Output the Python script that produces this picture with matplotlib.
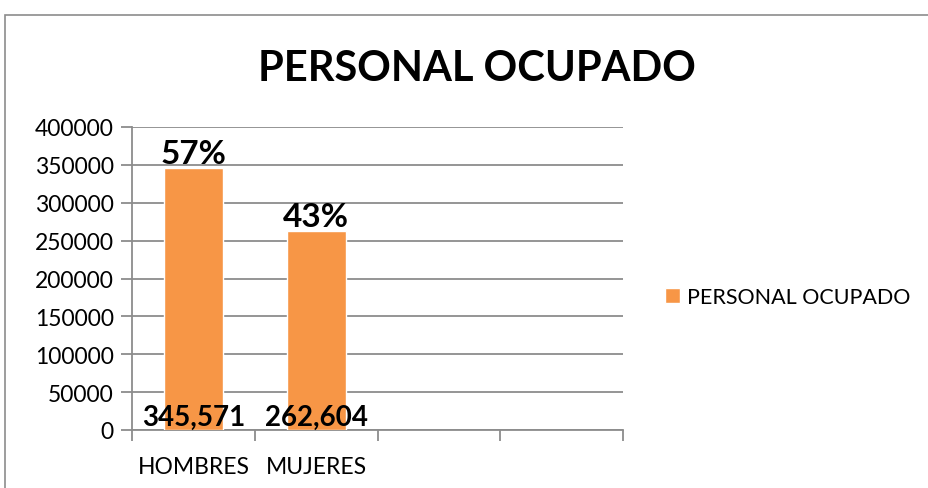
import numpy as np
from matplotlib import pyplot as plt
from matplotlib.patches import Rectangle

plt.rcParams.update({
    "font.family": ['Lato', 'DejaVu Sans'],
})

categorias = ['HOMBRES', 'MUJERES', '', '']
valores = [345571, 262604]
porcentajes = ['57%', '43%']
etiquetas_valor = ['345,571', '262,604']
serie = 'PERSONAL OCUPADO'
y_ticks = [0, 50000, 100000, 150000, 200000, 250000, 300000, 350000, 400000]

naranja = '#F79646'
gris = '#8c8c8c'

fig = plt.figure(figsize=(9.29, 4.89), dpi=100)
fig.patches.append(Rectangle((5 / 929, -0.1), 1.2, 1 - 16 / 489 + 0.1,
                             transform=fig.transFigure, fill=False,
                             edgecolor=gris, linewidth=1.2))

ax = fig.add_axes([132 / 929, 1 - 431 / 489, 491 / 929, 303 / 489])

x = np.arange(len(valores))
bars = ax.bar(x, valores, width=0.48, color=naranja, edgecolor='white',
              linewidth=1.0, label=serie, zorder=3)

ax.set_xlim(-0.5, len(categorias) - 0.5)
ax.set_ylim(0, 400000)
ax.set_yticks(y_ticks)
ax.set_yticklabels([str(v) for v in y_ticks], fontsize=16.5)
ax.yaxis.grid(True, color=gris, linewidth=1.3, zorder=0)
ax.set_axisbelow(True)

ax.set_xticks(np.arange(len(categorias) + 1) - 0.5)
ax.set_xticklabels([])
ax.set_xticks(np.arange(len(categorias)), minor=True)
ax.set_xticklabels(categorias, minor=True, fontsize=16.5)
ax.tick_params(axis='x', which='major', length=8, width=1.3, color=gris, direction='out')
ax.tick_params(axis='x', which='minor', length=0, pad=19)
ax.tick_params(axis='y', length=8, width=1.3, color=gris, pad=5)

for s in ['top', 'right']:
    ax.spines[s].set_visible(False)
for s in ['left', 'bottom']:
    ax.spines[s].set_color(gris)
    ax.spines[s].set_linewidth(1.3)

for b, p, e in zip(bars, porcentajes, etiquetas_valor):
    cx = b.get_x() + b.get_width() / 2
    ax.text(cx, b.get_height(), p, ha='center', va='bottom',
            fontsize=24, fontweight='bold', zorder=4)
    ax.text(cx, 0, e, ha='center', va='bottom',
            fontsize=20, fontweight='bold', zorder=4)

fig.text(477 / 929, 1 - 69 / 489, 'PERSONAL OCUPADO', ha='center', va='center',
         fontsize=30, fontweight='bold')

fig.legend(handles=[bars], labels=[serie], loc='center left',
           bbox_to_anchor=(646 / 929, 1 - 298 / 489), frameon=False,
           fontsize=15.5, handlelength=0.7, handleheight=0.7, handletextpad=0.3)

fig.savefig('out.png', dpi=100)
